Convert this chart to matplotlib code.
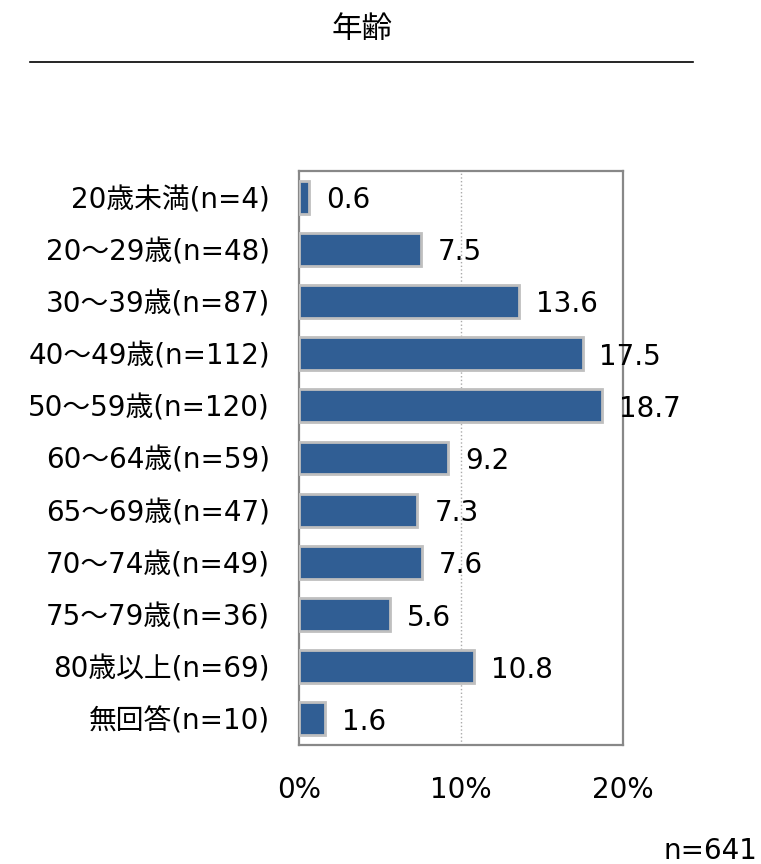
import numpy as np
import matplotlib.pyplot as plt

# データ
labels = ['20歳未満(n=4)', '20～29歳(n=48)', '30～39歳(n=87)', '40～49歳(n=112)',
          '50～59歳(n=120)', '60～64歳(n=59)', '65～69歳(n=47)', '70～74歳(n=49)',
          '75～79歳(n=36)', '80歳以上(n=69)', '無回答(n=10)']
values = [0.6, 7.5, 13.6, 17.5, 18.7, 9.2, 7.3, 7.6, 5.6, 10.8, 1.6]
xticks = [0, 10, 20]
xticklabels = ['0%', '10%', '20%']
title = '年齢'
note = 'n=641'

fam = ['DejaVu Sans', 'Noto Sans CJK JP']
plt.rcParams['font.family'] = fam
fs = 20

W, H = 761, 864
fig = plt.figure(figsize=(W / 100, H / 100), dpi=100)
ax = fig.add_axes([299 / W, 1 - 745 / H, (623 - 299) / W, (745 - 171) / H])

y = np.arange(len(values))
ax.barh(y, values, height=0.63, color='#305E94', edgecolor='#BFBFBF', linewidth=2, zorder=3)
ax.set_ylim(len(values) - 0.5, -0.5)
ax.set_xlim(0, 20)

for yi, v in zip(y, values):
    ax.annotate(f'{v:.1f}', (v, yi), xytext=(17, -3), textcoords='offset pixels',
                ha='left', va='center', fontsize=fs, color='#000000', zorder=4)

ax.axvline(10, color='#AAAAAA', linestyle=':', linewidth=1, zorder=1)

ax.set_yticks(y)
ax.set_yticklabels(labels, fontsize=fs)
ax.set_xticks(xticks)
ax.set_xticklabels(xticklabels, fontsize=fs)
ax.tick_params(axis='y', length=0, pad=21)
ax.tick_params(axis='x', length=0, pad=22)
for s in ax.spines.values():
    s.set_color('#888888')
    s.set_linewidth(1.6)

fig.text(362 / W, 1 - 30 / H, title, ha='center', va='center', fontsize=22)
fig.add_artist(plt.Line2D([30 / W, 693 / W], [1 - 62 / H, 1 - 62 / H], color='#000000', linewidth=1.2))
fig.text(757 / W, 1 - 851 / H, note, ha='right', va='center', fontsize=fs)

fig.savefig('out.png', dpi=100)
